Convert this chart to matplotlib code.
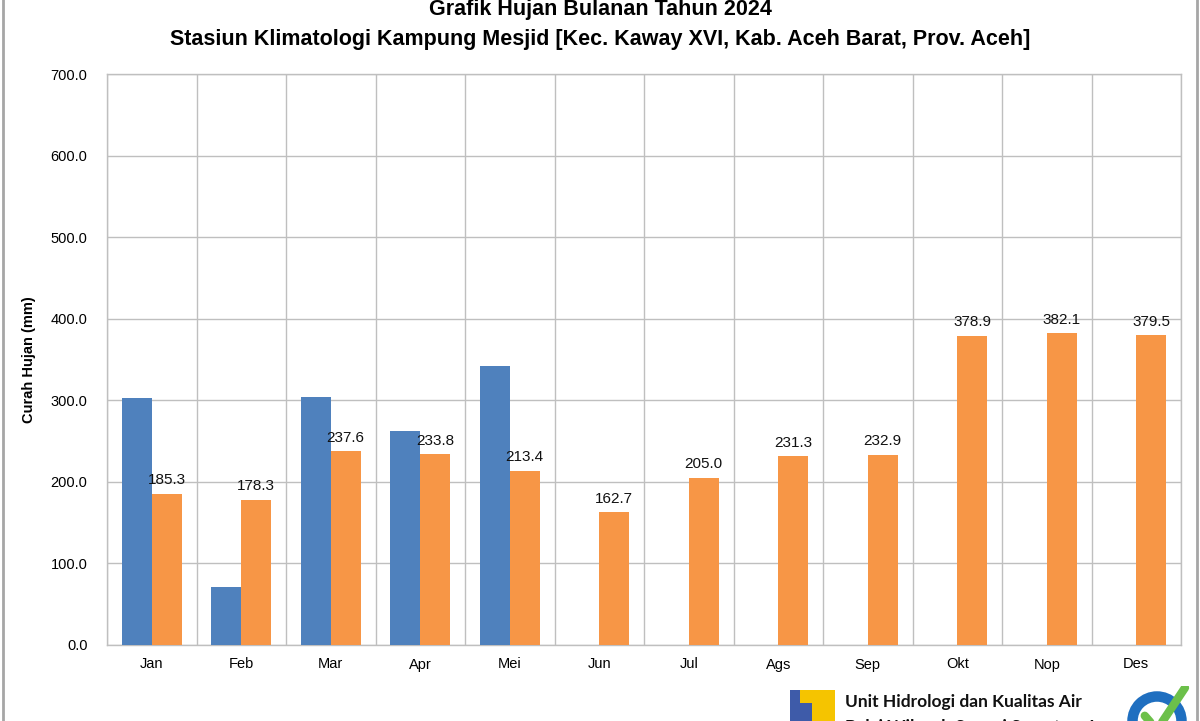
import matplotlib
matplotlib.use("Agg")
import matplotlib.pyplot as plt
from matplotlib.patches import Rectangle, Circle
from matplotlib.lines import Line2D
import numpy as np

months = ["Jan", "Feb", "Mar", "Apr", "Mei", "Jun", "Jul", "Ags", "Sep", "Okt", "Nop", "Des"]
series_prev = [302.5, 71.0, 303.5, 262.0, 342.5, None, None, None, None, None, None, None]
series_2024 = [185.3, 178.3, 237.6, 233.8, 213.4, 162.7, 205.0, 231.3, 232.9, 378.9, 382.1, 379.5]
yticks = [0, 100, 200, 300, 400, 500, 600, 700]

FONT = ["Liberation Sans", "DejaVu Sans"]
plt.rcParams["font.family"] = FONT

fig = plt.figure(figsize=(12, 7.21), dpi=100)
ax = fig.add_axes([107/1200, 1-645/721, (1181-107)/1200, (645-74)/721])

x = np.arange(len(months))
w = 0.335
blue = "#4F81BD"
orange = "#F79646"
bx = [xi for xi, v in zip(x, series_prev) if v is not None]
bv = [v for v in series_prev if v is not None]
ax.bar(np.array(bx) - w/2, bv, width=w, color=blue, zorder=3)
ax.bar(x + w/2, series_2024, width=w, color=orange, zorder=3)
for xi, v in zip(x, series_2024):
    ax.text(xi + w/2, v + 8, f"{v:.1f}", ha="center", va="bottom", fontsize=11, color="#111111", zorder=4)

ax.set_xlim(-0.5, 11.5)
ax.set_ylim(0, 700)
ax.set_yticks(yticks)
ax.set_yticklabels([f"{t:.1f}" for t in yticks], fontsize=10.5)
ax.set_xticks(x)
ax.set_xticklabels(months, fontsize=10.5)
ax.tick_params(axis="both", length=0, pad=9)
ax.tick_params(axis="y", pad=14)
ax.set_xticks(np.arange(-0.5, 12, 1), minor=True)
ax.tick_params(axis="x", which="minor", length=0)
ax.grid(axis="y", which="major", color="#BFBFBF", linewidth=1, zorder=0)
ax.grid(axis="x", which="minor", color="#BFBFBF", linewidth=1, zorder=0)
ax.grid(axis="x", which="major", visible=False)
for s in ax.spines.values():
    s.set_color("#BFBFBF")
    s.set_linewidth(1)
ax.set_ylabel("Curah Hujan (mm)", fontsize=10.5, fontweight="bold")
ax.yaxis.set_label_coords(-0.066, 0.5)

fig.text(0.5, 1-10/721, "Grafik Hujan Bulanan Tahun 2024", ha="center", va="center",
         fontsize=15.5, fontweight="bold")
fig.text(0.5, 1-39/721, "Stasiun Klimatologi Kampung Mesjid [Kec. Kaway XVI, Kab. Aceh Barat, Prov. Aceh]",
         ha="center", va="center", fontsize=15.5, fontweight="bold")

# figure border lines
fig.add_artist(Line2D([3/1200, 3/1200], [0, 1], color="#A6A6A6", linewidth=2, transform=fig.transFigure))
fig.add_artist(Line2D([1197/1200, 1197/1200], [0, 1], color="#A6A6A6", linewidth=2, transform=fig.transFigure))

def fx(px):
    return px / 1200
def fy(py):
    return 1 - py / 721

# logo
fig.add_artist(Rectangle((fx(790), fy(728)), fx(45), 38/721, facecolor="#F5C400", edgecolor="none", transform=fig.transFigure))
fig.add_artist(Rectangle((fx(790), fy(728)), fx(10), 38/721, facecolor="#3E5BA9", edgecolor="none", transform=fig.transFigure))
fig.add_artist(Rectangle((fx(800), fy(728)), fx(12), 25/721, facecolor="#3E5BA9", edgecolor="none", transform=fig.transFigure))
fig.text(fx(845), fy(702), "Unit Hidrologi dan Kualitas Air", ha="left", va="center",
         fontsize=12.5, fontweight="bold", family=["Lato", "DejaVu Sans"], color="#111111")
fig.text(fx(845), fy(727), "Balai Wilayah Sungai Sumatera I", ha="left", va="center",
         fontsize=12.5, fontweight="bold", family=["Lato", "DejaVu Sans"], color="#111111")

# ISO badge
ax_iso = fig.add_axes([fx(1122), fy(756), fx(70), 70/721])
ax_iso.set_xlim(-1, 1)
ax_iso.set_ylim(-1, 1)
ax_iso.set_aspect("equal")
ax_iso.axis("off")
ax_iso.add_patch(Circle((0, 0), 0.85, facecolor="#1F6FC0", edgecolor="none"))
ax_iso.add_patch(Circle((0, 0), 0.55, facecolor="white", edgecolor="none"))
ax_iso.plot([-0.35, 0.0, 0.8], [0.15, -0.25, 0.95], color="#6CC04A", linewidth=6, solid_capstyle="round")

fig.savefig("out.png", dpi=100)
